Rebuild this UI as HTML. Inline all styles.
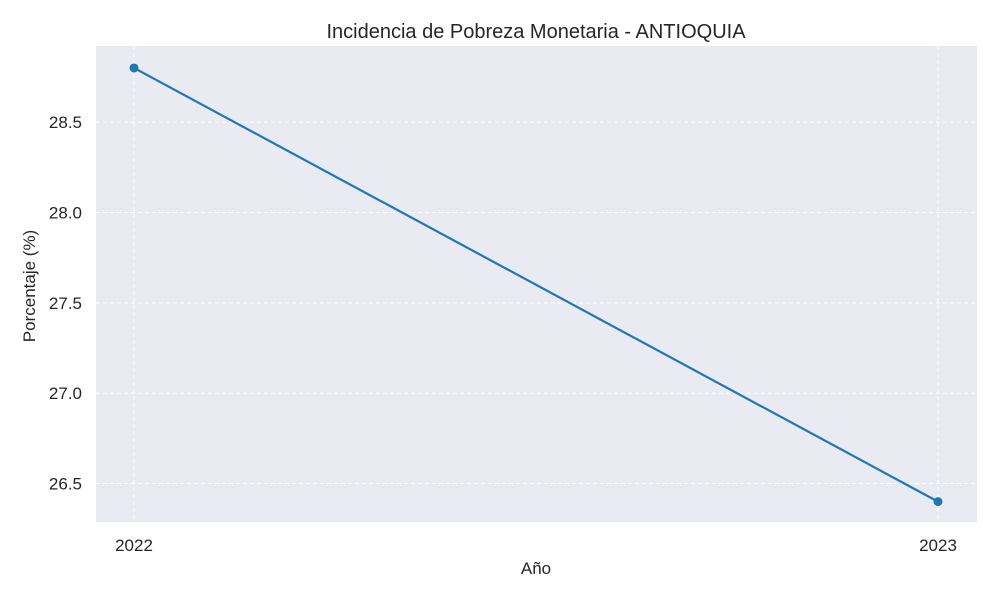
<!DOCTYPE html>
<html><head><meta charset="utf-8"><style>
body{margin:0;background:#fff;font-family:"Liberation Sans","DejaVu Sans",sans-serif;}
</style></head><body>
<svg id="chart" width="1000" height="600" xmlns="http://www.w3.org/2000/svg">
<rect x="0" y="0" width="1000" height="600" fill="#fff"/>
<rect x="96" y="46" width="881" height="476" fill="#eaeaf2"/>
<g id="grid"></g>
<g id="ticks"></g>
<g id="series"></g>
<text x="536" y="38" font-size="20" text-anchor="middle" fill="#262626">Incidencia de Pobreza Monetaria - ANTIOQUIA</text>
<text x="536" y="574" font-size="17" text-anchor="middle" fill="#262626">Año</text>
<text x="35" y="286" font-size="17" text-anchor="middle" fill="#262626" transform="rotate(-90 35 286)">Porcentaje (%)</text>
</svg>
<script>
const years = ["2022","2023"];
const values = [28.8, 26.4];
const yTicks = [26.5, 27.0, 27.5, 28.0, 28.5];
const yTickLabels = ["26.5","27.0","27.5","28.0","28.5"];
const NS="http://www.w3.org/2000/svg";
function xs(i){return 134 + i*(938-134)/(years.length-1);}
function ys(v){return 212.5 - (v-28)*180.7;}
function mk(tag,attrs,parent){const e=document.createElementNS(NS,tag);for(const k in attrs)e.setAttribute(k,attrs[k]);document.getElementById(parent).appendChild(e);return e;}
yTicks.forEach((t,i)=>{
  const l=mk('line',{x1:96,x2:977,y1:ys(t),y2:ys(t),stroke:'#fff','stroke-width':1,'stroke-dasharray':'4,3'},'grid');
  
  
  const tx=mk('text',{x:82,y:ys(t)+6,'font-size':17,'text-anchor':'end',fill:'#262626'},'ticks');
  tx.textContent=yTickLabels[i];
  
  
});
years.forEach((y,i)=>{
  const l=mk('line',{x1:xs(i),x2:xs(i),y1:46,y2:522,stroke:'#fff','stroke-width':1,'stroke-dasharray':'4,3'},'grid');
  
  
  const tx=mk('text',{x:xs(i),y:551,'font-size':17,'text-anchor':'middle',fill:'#262626'},'ticks');
  tx.textContent=y;
  
  
});
const pts=values.map((v,i)=>xs(i)+','+ys(v)).join(' ');
const pl=mk('polyline',{points:pts,fill:'none',stroke:'#1f77b4','stroke-width':2.2},'series');


values.forEach((v,i)=>{
  const c=mk('circle',{cx:xs(i),cy:ys(v),r:4.5,fill:'#1f77b4'},'series');
  
  
});
</script>
</body></html>
